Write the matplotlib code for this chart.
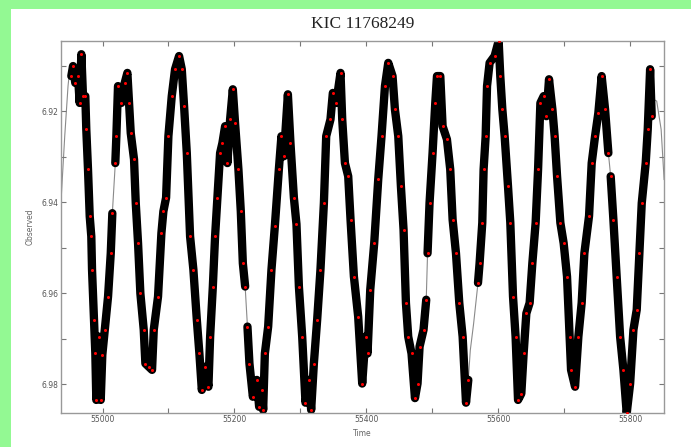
import numpy as np
import matplotlib
matplotlib.use('Agg')
import matplotlib.pyplot as plt
from matplotlib.patches import Rectangle
from matplotlib.ticker import MultipleLocator, FormatStrFormatter

# light curve samples (time, observed)
obs_time = [
    54952.7, 54955.3, 54958.7, 54962.8, 54965.4, 54967.9, 54970.4, 54973.9, 54975.4, 54978.0,
    54980.6, 54983.0, 54984.1, 54987.1, 54989.1, 54990.6, 54994.3, 54997.3, 54999.7, 55003.4,
    55008.4, 55012.5, 55014.9, 55019.4, 55021.0, 55023.5, 55028.5, 55033.7, 55037.7, 55040.2,
    55042.8, 55047.8, 55050.4, 55053.9, 55057.4, 55062.5, 55065.0, 55070.1, 55075.1, 55077.7,
    55084.2, 55089.3, 55092.3, 55096.4, 55099.9, 55105.0, 55110.0, 55116.1, 55120.2, 55123.7,
    55127.8, 55132.8, 55137.8, 55143.0, 55146.9, 55150.6, 55155.6, 55160.6, 55163.2, 55167.3,
    55170.7, 55174.2, 55178.3, 55181.8, 55185.9, 55189.4, 55193.5, 55197.6, 55201.0, 55206.1,
    55209.7, 55212.8, 55216.3, 55219.8, 55222.8, 55228.0, 55234.0, 55237.5, 55241.6, 55243.6,
    55246.2, 55251.2, 55256.2, 55261.3, 55267.4, 55271.3, 55275.0, 55281.1, 55285.0, 55290.2,
    55294.1, 55297.8, 55302.8, 55307.8, 55313.0, 55316.4, 55320.5, 55325.5, 55330.5, 55335.7,
    55339.2, 55345.7, 55349.3, 55354.4, 55360.9, 55363.5, 55367.6, 55372.6, 55376.1, 55381.2,
    55387.7, 55393.8, 55398.8, 55401.9, 55406.0, 55412.0, 55418.1, 55423.1, 55428.3, 55433.3,
    55439.8, 55443.4, 55448.5, 55452.5, 55456.5, 55460.1, 55463.6, 55468.6, 55473.8, 55477.7,
    55480.8, 55486.8, 55490.9, 55492.9, 55495.9, 55500.5, 55504.6, 55507.2, 55512.2, 55515.7,
    55522.3, 55527.3, 55530.9, 55536.0, 55541.0, 55546.1, 55551.2, 55554.7, 55569.4, 55571.8,
    55575.9, 55577.9, 55581.0, 55583.1, 55587.0, 55594.6, 55600.7, 55603.2, 55606.3, 55609.8,
    55614.9, 55618.4, 55622.5, 55626.4, 55630.1, 55635.1, 55638.6, 55642.7, 55647.7, 55651.8,
    55656.8, 55660.5, 55664.0, 55669.0, 55673.1, 55677.1, 55682.2, 55685.6, 55689.3, 55694.3,
    55699.3, 55704.4, 55708.4, 55710.5, 55716.6, 55721.6, 55726.6, 55730.7, 55737.8, 55741.8,
    55746.9, 55751.9, 55756.9, 55762.1, 55767.1, 55770.6, 55774.7, 55779.7, 55784.9, 55789.9,
    55794.9, 55800.1, 55805.1, 55810.1, 55814.2, 55817.7, 55823.7, 55826.8, 55830.4, 55832.8,
]
obs_value = [
    6.9123, 6.9101, 6.9138, 6.9123, 6.9182, 6.9075, 6.9167, 6.9167, 6.9240, 6.9328,
    6.9431, 6.9475, 6.9548, 6.9658, 6.9732, 6.9834, 6.9695, 6.9834, 6.9735, 6.9680,
    6.9607, 6.9512, 6.9424, 6.9314, 6.9255, 6.9145, 6.9182, 6.9138, 6.9116, 6.9182,
    6.9248, 6.9306, 6.9402, 6.9490, 6.9600, 6.9680, 6.9754, 6.9761, 6.9768, 6.9680,
    6.9607, 6.9468, 6.9420, 6.9390, 6.9255, 6.9167, 6.9108, 6.9079, 6.9108, 6.9189,
    6.9292, 6.9475, 6.9548, 6.9658, 6.9732, 6.9812, 6.9761, 6.9805, 6.9695, 6.9585,
    6.9475, 6.9390, 6.9292, 6.9270, 6.9233, 6.9314, 6.9218, 6.9152, 6.9226, 6.9328,
    6.9420, 6.9534, 6.9585, 6.9673, 6.9754, 6.9827, 6.9790, 6.9849, 6.9812, 6.9856,
    6.9732, 6.9673, 6.9548, 6.9453, 6.9328, 6.9255, 6.9299, 6.9163, 6.9270, 6.9390,
    6.9448, 6.9585, 6.9695, 6.9840, 6.9790, 6.9856, 6.9754, 6.9658, 6.9548, 6.9402,
    6.9255, 6.9218, 6.9160, 6.9182, 6.9116, 6.9218, 6.9314, 6.9343, 6.9438, 6.9563,
    6.9651, 6.9798, 6.9695, 6.9732, 6.9592, 6.9490, 6.9350, 6.9255, 6.9145, 6.9094,
    6.9123, 6.9196, 6.9255, 6.9365, 6.9460, 6.9621, 6.9695, 6.9732, 6.9830, 6.9798,
    6.9717, 6.9680, 6.9614, 6.9512, 6.9402, 6.9292, 6.9182, 6.9123, 6.9123, 6.9233,
    6.9262, 6.9328, 6.9438, 6.9512, 6.9621, 6.9695, 6.9840, 6.9790, 6.9577, 6.9534,
    6.9445, 6.9328, 6.9255, 6.9145, 6.9094, 6.9079, 6.9046, 6.9123, 6.9196, 6.9255,
    6.9365, 6.9445, 6.9607, 6.9695, 6.9834, 6.9820, 6.9732, 6.9644, 6.9621, 6.9534,
    6.9445, 6.9328, 6.9182, 6.9167, 6.9211, 6.9130, 6.9196, 6.9255, 6.9343, 6.9445,
    6.9490, 6.9563, 6.9695, 6.9768, 6.9805, 6.9695, 6.9621, 6.9512, 6.9430, 6.9314,
    6.9255, 6.9204, 6.9123, 6.9196, 6.9292, 6.9343, 6.9438, 6.9563, 6.9695, 6.9768,
    6.9863, 6.9798, 6.9680, 6.9636, 6.9512, 6.9402, 6.9314, 6.9240, 6.9108, 6.9211,
]
# times after which the observations have a gap
gap_after = [55014.9, 55216.3, 55490.9, 55554.7, 55767.1]

# extra points of the thin model curve where there is no data
model_time = [54937.5, 54942.7, 54947.7, 54951.0, 55557.7, 55562.7,
              55835.4, 55840.4, 55847.1, 55851.6]
model_value = [6.9387, 6.9255, 6.9145, 6.9098, 6.9725, 6.9667,
               6.9174, 6.9178, 6.9240, 6.9350]

title = 'KIC 11768249'


def split_gaps(t, v, gaps):
    """insert NaN after gap points so the thick band breaks"""
    tt, vv = [], []
    for a, b in zip(t, v):
        tt.append(a)
        vv.append(b)
        if a in gaps:
            tt.append(np.nan)
            vv.append(np.nan)
    return np.array(tt), np.array(vv)


fig = plt.figure(figsize=(6.91, 4.47), dpi=100)
fig.patch.set_facecolor('#93f993')
fig.add_artist(Rectangle((11 / 691, 0), 1 - 11 / 691, 1 - 9 / 447,
                         transform=fig.transFigure, facecolor='white',
                         edgecolor='none', zorder=-1))

ax = fig.add_axes([61.3 / 691, 1 - 412.7 / 447, (663.7 - 61.3) / 691, (412.7 - 41) / 447])

# thin model curve through everything
mt = np.concatenate([obs_time, model_time])
mv = np.concatenate([obs_value, model_value])
order = np.argsort(mt)
ax.plot(mt[order], mv[order], color='#8a8a8a', linewidth=0.8, zorder=1)

# observations: thick black band with red specks
bt, bv = split_gaps(obs_time, obs_value, gap_after)
ax.plot(bt, bv, color='black', linewidth=6, solid_capstyle='round',
        solid_joinstyle='round', zorder=2)
ax.plot(obs_time, obs_value, linestyle='none', marker='o', markersize=2.2,
        markerfacecolor='red', markeredgecolor='none', zorder=3)

ax.set_xlim(54937.5, 55851)
ax.set_ylim(6.9862, 6.9046)

ax.xaxis.set_major_locator(MultipleLocator(200))
ax.xaxis.set_minor_locator(MultipleLocator(100))
ax.yaxis.set_major_locator(MultipleLocator(0.02))
ax.yaxis.set_minor_locator(MultipleLocator(0.01))
ax.yaxis.set_major_formatter(FormatStrFormatter('%.2f'))

for which in ['major', 'minor']:
    ax.tick_params(axis='both', which=which, direction='in', length=3.5, width=0.8,
                   color='#777777', top=True, right=True)
ax.tick_params(axis='both', which='major', labelsize=5.5, labelcolor='#555555', pad=2)

for sp in ax.spines.values():
    sp.set_color('#999999')
    sp.set_linewidth(1.0)

ax.set_xlabel('Time', fontsize=5.5, color='#666666', labelpad=3)
ax.set_ylabel('Observed', fontsize=5.5, color='#666666', labelpad=5)
ax.set_title(title, fontsize=12.5, family='Liberation Serif', color='#222222', pad=9)

fig.savefig('out.png', dpi=100)
